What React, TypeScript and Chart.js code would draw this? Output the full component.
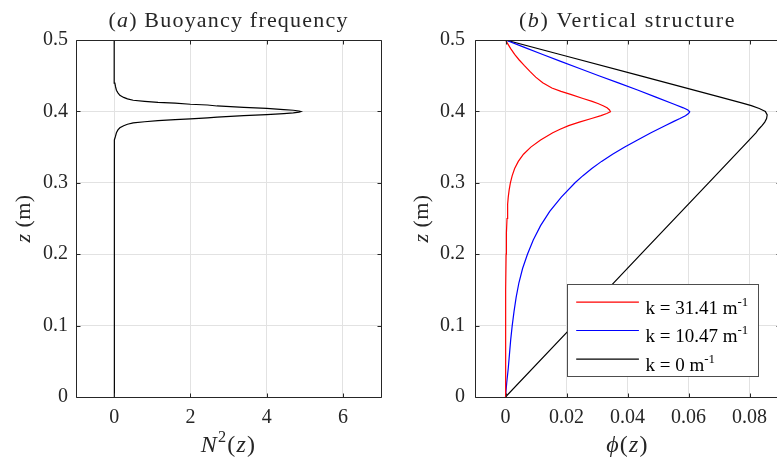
import React, { useEffect, useRef } from "react";
import { Chart, registerables } from "chart.js";

Chart.register(...registerables);

// ---------- data ----------
// Panel (a): buoyancy frequency N^2 vs depth z
const Z_N2 = [0, 0.3, 0.34, 0.35, 0.36, 0.365, 0.37, 0.374, 0.377, 0.38, 0.382, 0.384, 0.3855, 0.387, 0.3885, 0.3896, 0.391, 0.392, 0.394, 0.3955, 0.397, 0.398, 0.399, 0.3998, 0.4006, 0.4016, 0.4026, 0.4041, 0.4056, 0.4076, 0.409, 0.41, 0.4115, 0.4126, 0.4141, 0.4156, 0.4176, 0.4196, 0.4226, 0.426, 0.4296, 0.435, 0.4396, 0.4496, 0.46, 0.5];
const N2 = [0, 0, 0, 0.005, 0.02, 0.035, 0.06, 0.1, 0.15, 0.25, 0.35, 0.5, 0.8, 1.15, 1.6, 2.0, 2.45, 2.7, 3.4, 4.0, 4.45, 4.7, 4.85, 4.9, 4.85, 4.7, 4.45, 4.0, 3.4, 2.7, 2.45, 2.0, 1.6, 1.15, 0.8, 0.5, 0.35, 0.25, 0.15, 0.1, 0.06, 0.035, 0.02, 0.005, 0, 0];

// Panel (b): vertical structure phi(z) for three wavenumbers
const Z_RED = [0, 0.1, 0.15, 0.2, 0.23, 0.25, 0.27, 0.28, 0.29, 0.3, 0.31, 0.32, 0.33, 0.34, 0.35, 0.36, 0.37, 0.375, 0.38, 0.385, 0.39, 0.394, 0.397, 0.3995, 0.402, 0.405, 0.408, 0.411, 0.414, 0.418, 0.4234, 0.428, 0.4328, 0.44, 0.448, 0.456, 0.464, 0.472, 0.48, 0.488, 0.495, 0.5];
const PHI_RED = [0, 0, 0.0001, 0.0002, 0.0003, 0.0005, 0.0007, 0.0009, 0.0012, 0.0016, 0.0022, 0.003, 0.0042, 0.0059, 0.0083, 0.0115, 0.0155, 0.0179, 0.0207, 0.0242, 0.0282, 0.0313, 0.0332, 0.0344, 0.0341, 0.0333, 0.032, 0.0303, 0.0284, 0.0254, 0.0216, 0.0182, 0.0152, 0.0122, 0.0099, 0.008, 0.0062, 0.0045, 0.003, 0.0017, 0.0007, 0];

const Z_BLUE = [0, 0.02, 0.04, 0.06, 0.08, 0.1, 0.12, 0.14, 0.16, 0.18, 0.2, 0.22, 0.24, 0.26, 0.28, 0.3, 0.31, 0.32, 0.33, 0.34, 0.35, 0.36, 0.37, 0.38, 0.386, 0.39, 0.394, 0.397, 0.3995, 0.402, 0.405, 0.41, 0.42, 0.43, 0.44, 0.45, 0.46, 0.47, 0.48, 0.49, 0.5];
const PHI_BLUE = [0, 0.0004, 0.0009, 0.0013, 0.0017, 0.0022, 0.0028, 0.0035, 0.0044, 0.0056, 0.0072, 0.0091, 0.0115, 0.0145, 0.0183, 0.0228, 0.0254, 0.0283, 0.0315, 0.0351, 0.0391, 0.0433, 0.0477, 0.0523, 0.0552, 0.0572, 0.059, 0.06, 0.0604, 0.0598, 0.0583, 0.0553, 0.0493, 0.0433, 0.037, 0.0306, 0.0243, 0.0181, 0.012, 0.006, 0];

const Z_BLACK = [0, 0.1, 0.2, 0.3, 0.35, 0.37, 0.375, 0.38, 0.385, 0.39, 0.395, 0.4, 0.404, 0.408, 0.412, 0.42, 0.45, 0.48, 0.5];
const PHI_BLACK = [0, 0.0222, 0.0444, 0.0666, 0.0777, 0.0821, 0.083, 0.0841, 0.085, 0.0856, 0.0858, 0.0852, 0.0832, 0.0806, 0.0774, 0.0704, 0.044, 0.0176, 0];

const LEGEND_LABELS = ["k = 31.41 m", "k = 10.47 m", "k = 0 m"];
const LEGEND_SUP = "-1";

// ticks
const Y_TICKS = [0, 0.1, 0.2, 0.3, 0.4, 0.5];
const Y_TICK_LABELS = ["0", "0.1", "0.2", "0.3", "0.4", "0.5"];
const XA_TICKS = [0, 2, 4, 6];
const XA_TICK_LABELS = ["0", "2", "4", "6"];
const XB_TICKS = [0, 0.02, 0.04, 0.06, 0.08];
const XB_TICK_LABELS = ["0", "0.02", "0.04", "0.06", "0.08"];

// ---------- styling ----------
const FAMILY = '"Liberation Serif", "Times New Roman", serif';
const AXIS_COLOR = "#262626";
const GRID_COLOR = "#e2e2e2";
const RED = "#ff0000";
const BLUE = "#0000ff";
const BLACK = "#000000";

type Seg = { t: string; it?: boolean; sup?: boolean };

function segFont(s: Seg, size: number) {
  const sz = s.sup ? size * 0.68 : size;
  return `${s.it ? "italic " : ""}${sz}px ${FAMILY}`;
}

function drawRich(
  ctx: CanvasRenderingContext2D,
  segs: Seg[],
  x: number,
  y: number,
  size: number,
  align: "center" | "left",
  spacing = 0,
  color = AXIS_COLOR
) {
  ctx.save();
  (ctx as any).letterSpacing = `${spacing}px`;
  ctx.textAlign = "left";
  ctx.textBaseline = "alphabetic";
  ctx.fillStyle = color;
  let w = 0;
  for (const s of segs) {
    ctx.font = segFont(s, size);
    w += ctx.measureText(s.t).width;
  }
  let cx = align === "center" ? x - w / 2 : x;
  for (const s of segs) {
    ctx.font = segFont(s, size);
    ctx.fillText(s.t, cx, s.sup ? y - size * 0.42 : y);
    cx += ctx.measureText(s.t).width;
  }
  ctx.restore();
}

type DecorCfg = {
  title: Seg[];
  titleSpacing: number;
  xlabel: Seg[];
  ylabel: Seg[];
  ylabelX: number;
  legend: boolean;
};

function makeDecor(cfg: DecorCfg) {
  return {
    id: "decor",
    afterDatasetsDraw(chart: any) {
      const ctx: CanvasRenderingContext2D = chart.ctx;
      const a = chart.chartArea;
      const xs = chart.scales.x;
      const ys = chart.scales.y;
      const L = Math.round(a.left) + 0.5;
      const R = Math.round(a.right) + 0.5;
      const T = Math.round(a.top) + 0.5;
      const B = Math.round(a.bottom) + 0.5;
      ctx.save();
      ctx.strokeStyle = AXIS_COLOR;
      ctx.lineWidth = 1;
      ctx.beginPath();
      ctx.rect(L, T, R - L, B - T);
      ctx.stroke();
      const tl = 4;
      ctx.beginPath();
      for (const t of xs.ticks) {
        const px = Math.round(xs.getPixelForValue(t.value)) + 0.5;
        ctx.moveTo(px, B);
        ctx.lineTo(px, B - tl);
        ctx.moveTo(px, T);
        ctx.lineTo(px, T + tl);
      }
      for (const t of ys.ticks) {
        const py = Math.round(ys.getPixelForValue(t.value)) + 0.5;
        ctx.moveTo(L, py);
        ctx.lineTo(L + tl, py);
        ctx.moveTo(R, py);
        ctx.lineTo(R - tl, py);
      }
      ctx.stroke();
      ctx.restore();

      const cxA = (a.left + a.right) / 2;
      const cyA = (a.top + a.bottom) / 2;
      drawRich(ctx, cfg.title, cxA, 27, 22, "center", cfg.titleSpacing);
      drawRich(ctx, cfg.xlabel, cxA, 452, 24, "center", 1.2);
      ctx.save();
      ctx.translate(cfg.ylabelX, cyA);
      ctx.rotate(-Math.PI / 2);
      drawRich(ctx, cfg.ylabel, 0, 0, 22, "center", 0.4);
      ctx.restore();

      if (cfg.legend) {
        const bw = 191.4;
        const bh = 92.3;
        const bx = Math.round(a.right - 21.5 - bw) + 0.5;
        const by = Math.round(a.bottom - 20.7 - bh) + 0.5;
        ctx.save();
        ctx.fillStyle = "#ffffff";
        ctx.fillRect(bx, by, bw, bh);
        ctx.strokeStyle = "#4d4d4d";
        ctx.lineWidth = 1;
        ctx.strokeRect(bx, by, Math.round(bw), Math.round(bh));
        const colors = [RED, BLUE, BLACK];
        const rows = [17.7, 46, 74.7];
        for (let i = 0; i < LEGEND_LABELS.length; i++) {
          const ry = by + rows[i];
          ctx.strokeStyle = colors[i];
          ctx.lineWidth = 1.2;
          ctx.beginPath();
          ctx.moveTo(bx + 8.7, ry);
          ctx.lineTo(bx + 71.4, ry);
          ctx.stroke();
          drawRich(
            ctx,
            [{ t: LEGEND_LABELS[i] }, { t: LEGEND_SUP, sup: true }],
            bx + 78,
            ry + 11.5,
            19,
            "left",
            0,
            "#000000"
          );
        }
        ctx.restore();
      }
    },
  };
}

function pts(xs: number[], zs: number[]) {
  return zs.map((z, i) => ({ x: xs[i], y: z }));
}

function xScale(min: number, max: number, ticks: number[], labels: string[]) {
  return {
    type: "linear" as const,
    min,
    max,
    afterBuildTicks: (s: any) => {
      s.ticks = ticks.map((v) => ({ value: v }));
    },
    afterFit: (s: any) => {
      s.height = 64;
    },
    grid: { color: GRID_COLOR, drawTicks: false, lineWidth: 1 },
    border: { display: false },
    ticks: {
      padding: 9,
      color: AXIS_COLOR,
      font: { family: FAMILY, size: 20 },
      autoSkip: false,
      maxRotation: 0,
      callback: (_v: any, i: number) => labels[i],
    },
  };
}

function yScale(width: number, pad: number) {
  return {
    type: "linear" as const,
    min: 0,
    max: 0.5,
    afterBuildTicks: (s: any) => {
      s.ticks = Y_TICKS.map((v) => ({ value: v }));
    },
    afterFit: (s: any) => {
      s.width = width;
    },
    grid: { color: GRID_COLOR, drawTicks: false, lineWidth: 1 },
    border: { display: false },
    ticks: {
      padding: pad,
      color: AXIS_COLOR,
      font: { family: FAMILY, size: 20 },
      autoSkip: false,
      callback: (_v: any, i: number) => Y_TICK_LABELS[i],
    },
  };
}

function lineDs(data: { x: number; y: number }[], color: string) {
  return {
    data,
    showLine: true,
    borderColor: color,
    backgroundColor: color,
    borderWidth: 1.2,
    pointRadius: 0,
    fill: false,
    tension: 0,
  };
}

export default function App() {
  const refA = useRef<HTMLCanvasElement>(null);
  const refB = useRef<HTMLCanvasElement>(null);

  useEffect(() => {
    const chartA = new Chart(refA.current as HTMLCanvasElement, {
      type: "scatter",
      data: { datasets: [lineDs(pts(N2, Z_N2), BLACK) as any] },
      options: {
        animation: false,
        responsive: false,
        layout: { padding: { top: 40, right: 9, left: 0, bottom: 0 } },
        plugins: { legend: { display: false }, tooltip: { enabled: false } },
        scales: {
          x: xScale(-1, 7, XA_TICKS, XA_TICK_LABELS) as any,
          y: yScale(76, 8) as any,
        },
      },
      plugins: [
        makeDecor({
          title: [{ t: "(" }, { t: "a", it: true }, { t: ") Buoyancy frequency" }],
          titleSpacing: 1.2,
          xlabel: [{ t: "N", it: true }, { t: "2", sup: true }, { t: "(" }, { t: "z", it: true }, { t: ")" }],
          ylabel: [{ t: "z", it: true }, { t: " (m)" }],
          ylabelX: 30,
          legend: false,
        }) as any,
      ],
    });

    const chartB = new Chart(refB.current as HTMLCanvasElement, {
      type: "scatter",
      data: {
        datasets: [
          lineDs(pts(PHI_RED, Z_RED), RED) as any,
          lineDs(pts(PHI_BLUE, Z_BLUE), BLUE) as any,
          lineDs(pts(PHI_BLACK, Z_BLACK), BLACK) as any,
        ],
      },
      options: {
        animation: false,
        responsive: false,
        layout: { padding: { top: 40, right: 10, left: 0, bottom: 0 } },
        plugins: { legend: { display: false }, tooltip: { enabled: false } },
        scales: {
          x: xScale(-0.01, 0.09, XB_TICKS, XB_TICK_LABELS) as any,
          y: yScale(85, 10) as any,
        },
      },
      plugins: [
        makeDecor({
          title: [{ t: "(" }, { t: "b", it: true }, { t: ") Vertical structure" }],
          titleSpacing: 1.6,
          xlabel: [{ t: "\u03D5", it: true }, { t: "(" }, { t: "z", it: true }, { t: ")" }],
          ylabel: [{ t: "z", it: true }, { t: " (m)" }],
          ylabelX: 38,
          legend: true,
        }) as any,
      ],
    });

    return () => {
      chartA.destroy();
      chartB.destroy();
    };
  }, []);

  return (
    <div
      style={{
        position: "fixed",
        left: 0,
        top: 0,
        width: 777,
        height: 461,
        overflow: "hidden",
        background: "#ffffff",
      }}
    >
      <canvas
        ref={refA}
        width={390}
        height={461}
        style={{ position: "absolute", left: 0, top: 0, width: 390, height: 461 }}
      />
      <canvas
        ref={refB}
        width={400}
        height={461}
        style={{ position: "absolute", left: 390, top: 0, width: 400, height: 461 }}
      />
    </div>
  );
}
